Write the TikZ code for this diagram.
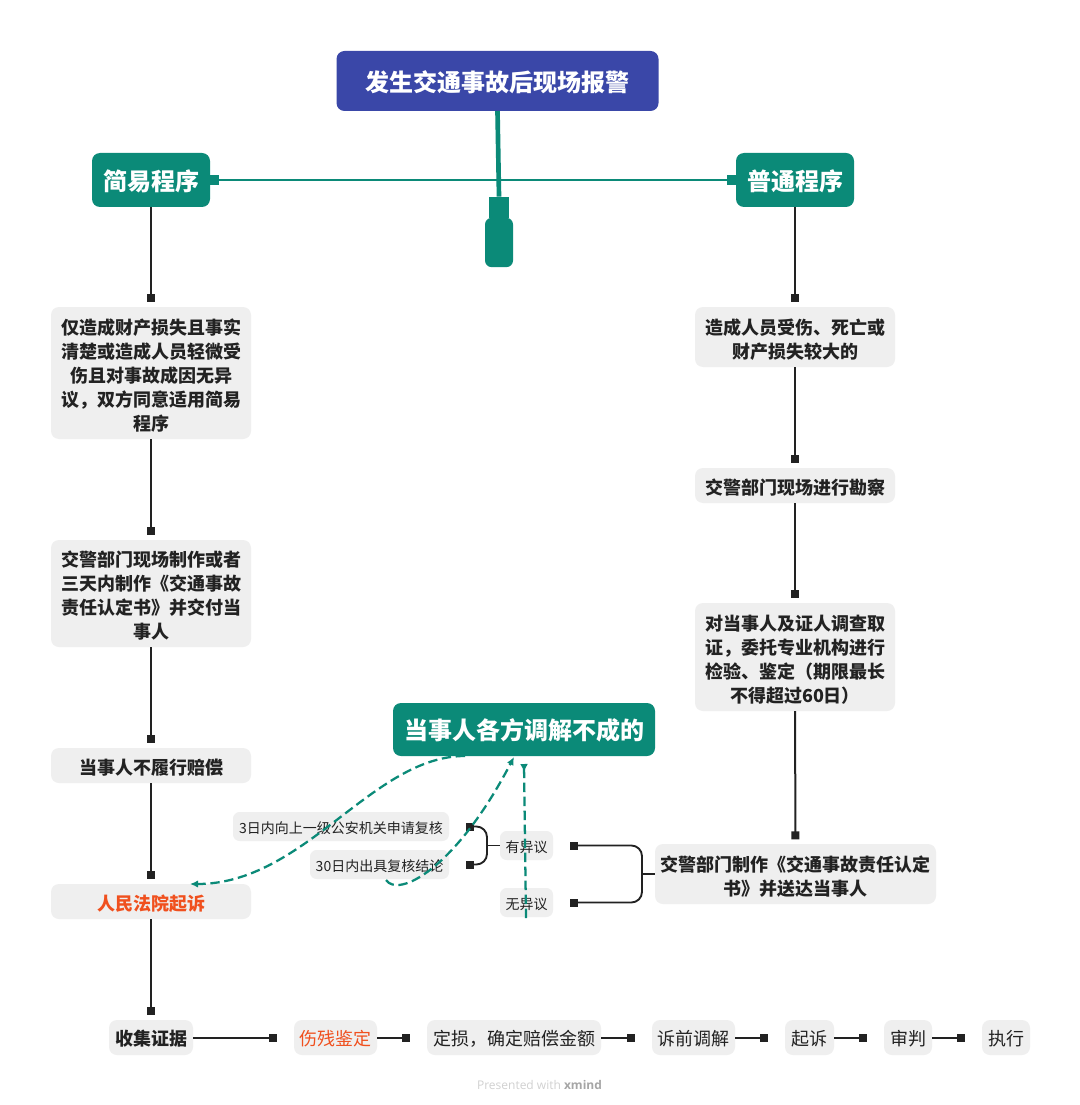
\documentclass[tikz,border=0pt]{standalone}
\usepackage{fontspec}
\setmainfont{Noto Sans CJK SC}
\newfontfamily\wmfont{Open Sans}
\usetikzlibrary{arrows.meta,calc}
\definecolor{rootblue}{HTML}{3A47A8}
\definecolor{teal}{HTML}{0B8A78}
\definecolor{boxgray}{HTML}{EFEFEF}
\definecolor{inkc}{HTML}{222222}
\definecolor{orangec}{HTML}{F0501E}
\newcommand{\firstln}{\rule{0pt}{15pt}}
\tikzset{
  x=0.75pt,y=-0.75pt,
  base/.style={rounded corners=6pt,inner sep=0pt,outer sep=0pt,align=center,anchor=center},
  mainbox/.style={base,fill=teal,text=white,font=\fontsize{18}{24}\selectfont\bfseries,execute at begin node={\rule{0pt}{17.3pt}}},
  rootbox/.style={base,fill=rootblue,text=white,font=\fontsize{18}{24}\selectfont\bfseries,execute at begin node={\rule{0pt}{17.3pt}}},
  graybox/.style={base,fill=boxgray,text=inkc,font=\fontsize{13.5}{18}\selectfont\bfseries,minimum width=150pt},
  bottombox/.style={base,fill=boxgray,text=inkc,font=\fontsize{13.5}{18}\selectfont,minimum height=26.25pt,execute at begin node={\rule{0pt}{13.4pt}}},
  smallbox/.style={base,fill=boxgray,text=inkc,font=\fontsize{10.5}{14}\selectfont,rounded corners=5pt,minimum height=21.75pt,execute at begin node={\rule{0pt}{12pt}}},
  conn/.style={draw=inkc,line width=1.5pt,-{Square[length=6pt,width=6pt]}},
  vconn/.style={conn,shorten >=3.5pt},
  hconn/.style={conn,shorten >=12.5pt},
  brace/.style={draw=inkc,line width=1.4pt,rounded corners=8pt},
  sq/.style={fill=inkc,inner sep=0pt,minimum size=6pt},
  tealline/.style={draw=teal,line width=1.8pt},
  reldash/.style={draw=teal,line width=1.7pt,dash pattern=on 7pt off 3.5pt,-{Latex[length=6pt,width=5.5pt]}},
  reldashrev/.style={draw=teal,line width=1.7pt,dash pattern=on 7pt off 3.5pt,-{Latex[reversed,length=6pt,width=6pt]}},
}
\begin{document}
\begin{tikzpicture}
\useasboundingbox[fill=white] (0,0) rectangle (1080,1105);
% main nodes
\node[rootbox,minimum width=241.5pt,minimum height=45pt] (root) at (497.5,81) {发生交通事故后现场报警};
\node[mainbox,minimum width=88.5pt,minimum height=40.5pt] (jian) at (151,180) {简易程序};
\node[mainbox,minimum width=88.5pt,minimum height=40.5pt] (pu) at (795,180) {普通程序};
\node[mainbox,minimum width=196.5pt,minimum height=39.75pt] (tj) at (524,729.5) {当事人各方调解不成的};
% empty teal stub
\node[fill=teal,inner sep=0pt,minimum width=15pt,minimum height=16pt] (stubtop) at (499,207.5) {};
\node[fill=teal,inner sep=0pt,rounded corners=5pt,minimum width=21pt,minimum height=37pt] (stub) at (499,242.5) {};
% left column
\node[graybox,minimum height=99pt] (l1) at (151,373) {\firstln 仅造成财产损失且事实\\清楚或造成人员轻微受\\伤且对事故成因无异\\议，双方同意适用简易\\程序};
\node[graybox,minimum height=80.25pt] (l2) at (151,593.5) {\firstln 交警部门现场制作或者\\三天内制作《交通事故\\责任认定书》并交付当\\事人};
\node[graybox,minimum height=26.25pt] (l3) at (151,765.5) {\firstln 当事人不履行赔偿};
\node[graybox,minimum height=26.25pt,text=orangec] (l4) at (151,901.5) {\firstln 人民法院起诉};
% right column
\node[graybox,minimum height=45pt] (r1) at (795,337) {\firstln 造成人员受伤、死亡或\\财产损失较大的};
\node[graybox,minimum height=26.25pt] (r2) at (795,485.5) {\firstln 交警部门现场进行勘察};
\node[graybox,minimum height=81pt] (r3) at (795,657) {\firstln 对当事人及证人调查取\\证，委托专业机构进行\\检验、鉴定（期限最长\\不得超过60日）};
\node[graybox,minimum width=210.75pt,minimum height=45pt] (r4) at (795.5,874) {\firstln 交警部门制作《交通事故责任认定\\书》并送达当事人};
% middle
\node[smallbox,minimum width=39.75pt] (yes) at (526.5,845.5) {有异议};
\node[smallbox,minimum width=39.75pt] (no) at (526.5,902.5) {无异议};
\node[smallbox,minimum width=162pt] (a3) at (341,826.5) {3日内向上一级公安机关申请复核};
\node[smallbox,minimum width=104.25pt] (a30) at (379.5,864.5) {30日内出具复核结论};
% bottom row
\node[bottombox,minimum width=63pt,font=\fontsize{13.5}{18}\selectfont\bfseries] (b1) at (151,1037.5) {收集证据};
\node[bottombox,minimum width=62.25pt,text=orangec] (b2) at (335.5,1037.5) {伤残鉴定};
\node[bottombox,minimum width=130.5pt] (b3) at (514,1037.5) {定损，确定赔偿金额};
\node[bottombox,minimum width=62.25pt] (b4) at (693.5,1037.5) {诉前调解};
\node[bottombox,minimum width=36.75pt] (b5) at (809.5,1037.5) {起诉};
\node[bottombox,minimum width=36pt] (b6) at (908,1037.5) {审判};
\node[bottombox,minimum width=36pt] (b7) at (1006,1037.5) {执行};
% watermark
\node[text=black!18,font=\wmfont\fontsize{9}{11}\selectfont,inner sep=0pt] (wm) at (539.5,1085) {Presented with \textcolor{black!35}{\textbf{xmind}}};
% trunk connectors
\draw[draw=teal,line width=3.5pt] (root.south) -- (stubtop.north);
\draw[tealline] (jian.east) -- (pu.west);
\node[fill=teal,inner sep=0pt,minimum width=6.5pt,minimum height=7pt,anchor=west] (capl) at (jian.east) {};
\node[fill=teal,inner sep=0pt,minimum width=6.5pt,minimum height=7pt,anchor=east] (capr) at (pu.west) {};
% vertical connectors
\draw[vconn] (jian.south) -- (l1.north);
\draw[vconn] (l1.south) -- (l2.north);
\draw[vconn] (l2.south) -- (l3.north);
\draw[vconn] (l3.south) -- (l4.north);
\draw[vconn] (l4.south) -- (b1.north);
\draw[vconn] (pu.south) -- (r1.north);
\draw[vconn] (r1.south) -- (r2.north);
\draw[vconn] (r2.south) -- (r3.north);
\draw[vconn] (r3.south) -- (r4.north);
% bottom connectors
\draw[hconn] (b1.east) -- (b2.west);
\draw[hconn] (b2.east) -- (b3.west);
\draw[hconn] (b3.east) -- (b4.west);
\draw[hconn] (b4.east) -- (b5.west);
\draw[hconn] (b5.east) -- (b6.west);
\draw[hconn] (b6.east) -- (b7.west);
% braces
\node[sq] (s3) at (469.5,826.5) {};
\node[sq] (s30) at (469.5,864.5) {};
\node[sq] (sy) at (574,845.5) {};
\node[sq] (sn) at (574,902.5) {};
\draw[brace] (s3.center) -- (487,826.5) -- (487,864.5) -- (s30.center);
\draw[brace] (487,845.5) -- (yes.west);
\draw[brace] (sy.center) -- (642,845.5) -- (642,902.5) -- (sn.center);
\draw[brace] (642,874) -- (r4.west);
% relationships
\coordinate (d1s) at (465,756);
\coordinate (d1e) at (190,884);
\coordinate (d2s) at (386,880);
\coordinate (d2e) at (514,757);
\coordinate (d3s) at (526,918);
\coordinate (d3e) at (524,764);
\draw[reldash] (d1s) .. controls (372,756) and (305,884) .. (d1e);
\draw[reldash] (d2s) .. controls (398,898) and (455,870) .. (d2e);
\draw[reldashrev] (d3s) -- (d3e);
\end{tikzpicture}
\end{document}
